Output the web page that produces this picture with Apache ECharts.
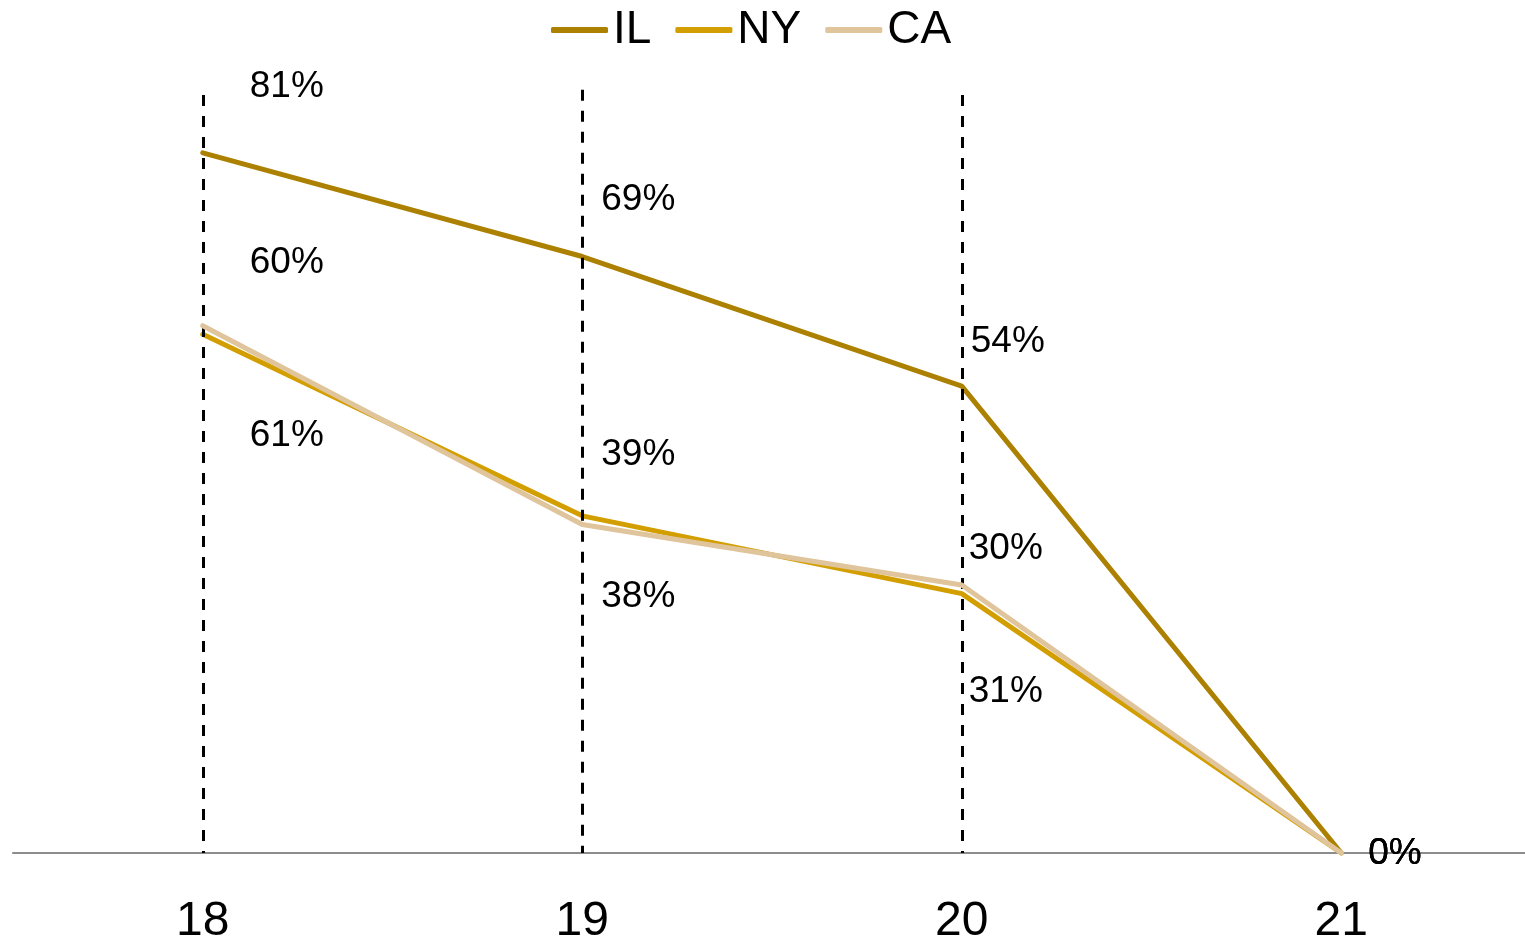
<!DOCTYPE html>
<html><head><meta charset="utf-8">
<script src="https://cdn.jsdelivr.net/npm/echarts@6/dist/echarts.min.js"></script>
<style>html,body{margin:0;padding:0;background:#fff}#c{width:1525px;height:941px}</style>
</head><body><div id="c"></div>
<script>
// ---- data ----
const categories = ['18', '19', '20', '21'];
const seriesNames = ['IL', 'NY', 'CA'];
const IL = [81, 69, 54, 0];
const NY = [60, 39, 30, 0];
const CA = [61, 38, 31, 0];
const dropLineTops = [87.7, 88.3, 87.7]; // value where the dashed guide lines start (cats 18..20)

// ---- layout / style ----
const colors = {IL: '#AC8000', NY: '#D29E00', CA: '#DFC49C'};
const labelOffsets = {
  IL: [[42, -66], [14, -57], [4, -44], [22, 1]],
  NY: [[42, -72], [14, -61], [2, -45], [22, 1]],
  CA: [[42, 110], [14, 72], [2, 107], [22, 1]]
};
const font = '"Liberation Sans", Arial, sans-serif';
const values = {IL, NY, CA};

function makeSeries(name, idx) {
  const s = {
    name, type: 'line', z: 3 + idx,
    data: values[name].map((v, i) => ({
      value: v,
      label: {offset: labelOffsets[name][i]}
    })),
    symbol: 'circle', symbolSize: 0.01, showSymbol: true,
    lineStyle: {color: colors[name], width: 5, cap: 'round'},
    itemStyle: {color: colors[name]},
    label: {
      show: true, position: 'right', distance: 5,
      formatter: p => p.value + '%',
      color: '#000', fontSize: 37, fontFamily: font
    }
  };
  if (idx === 0) {
    s.markLine = {
      silent: true, symbol: 'none', animation: false,
      lineStyle: {color: '#000', width: 3, type: [11, 10]},
      label: {show: false},
      data: dropLineTops.map((t, i) => [
        {coord: [categories[i], t]},
        {coord: [categories[i], 0]}
      ])
    };
  }
  return s;
}

const chart = echarts.init(document.getElementById('c'));
chart.setOption({
  animation: false,
  backgroundColor: '#fff',
  legend: {
    data: seriesNames,
    top: 2, left: 546,
    icon: 'roundRect',
    itemWidth: 57, itemHeight: 6, itemGap: 24,
    textStyle: {fontSize: 46, fontFamily: font, color: '#000'}
  },
  grid: {left: 13, width: 1518, top: 75, bottom: 88, containLabel: false, outerBoundsMode: 'none'},
  xAxis: {
    type: 'category', data: categories, boundaryGap: true,
    axisLine: {lineStyle: {color: '#8c8c8c', width: 2}},
    axisTick: {show: false},
    axisLabel: {color: '#000', fontSize: 48, fontFamily: font, margin: 45},
    splitLine: {show: false}
  },
  yAxis: {
    type: 'value', min: 0, max: 90, show: false,
    splitLine: {show: false}
  },
  series: seriesNames.map(makeSeries)
});
</script>
</body></html>
